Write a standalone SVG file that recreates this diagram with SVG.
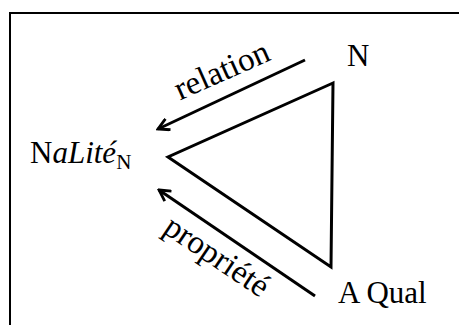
<svg xmlns="http://www.w3.org/2000/svg" width="459" height="325" viewBox="0 0 459 325">
<defs>
<style>
.t{font-family:"Liberation Serif","Times New Roman",serif;font-size:31px;fill:#000}
.l{font-size:33px}
.ln{fill:none;stroke:#000;stroke-width:3;stroke-linejoin:miter}
</style>
<marker id="ah" viewBox="0 0 14 14" refX="12" refY="7" markerWidth="14" markerHeight="14" markerUnits="userSpaceOnUse" orient="auto">
<path d="M1,1 L12,7 L1,13" fill="none" stroke="#000" stroke-width="2.8"/>
</marker>
</defs>
<rect x="0" y="0" width="459" height="325" fill="#fff"/>
<rect x="10" y="13" width="460" height="330" fill="none" stroke="#000" stroke-width="2"/>
<g id="connectors">
<path class="ln" d="M305,60 L158,129" marker-end="url(#ah)"/>
<path class="ln" d="M315,296 L159,190" marker-end="url(#ah)"/>
<path class="ln" d="M333,83 L168,157 L331,267 Z"/>
<text class="t l" transform="translate(226,80) rotate(-24)" text-anchor="middle">relation</text>
<text class="t l" transform="translate(211,265) rotate(34)" text-anchor="middle">propriété</text>
</g>
<g id="node-N"><text class="t" x="347" y="66">N</text></g>
<g id="node-NaLite"><text class="t" x="30" y="163">N<tspan font-style="italic">aLité</tspan><tspan font-size="21" dy="6">N</tspan></text></g>
<g id="node-AQual"><text class="t" x="338" y="303">A Qual</text></g>
</svg>
